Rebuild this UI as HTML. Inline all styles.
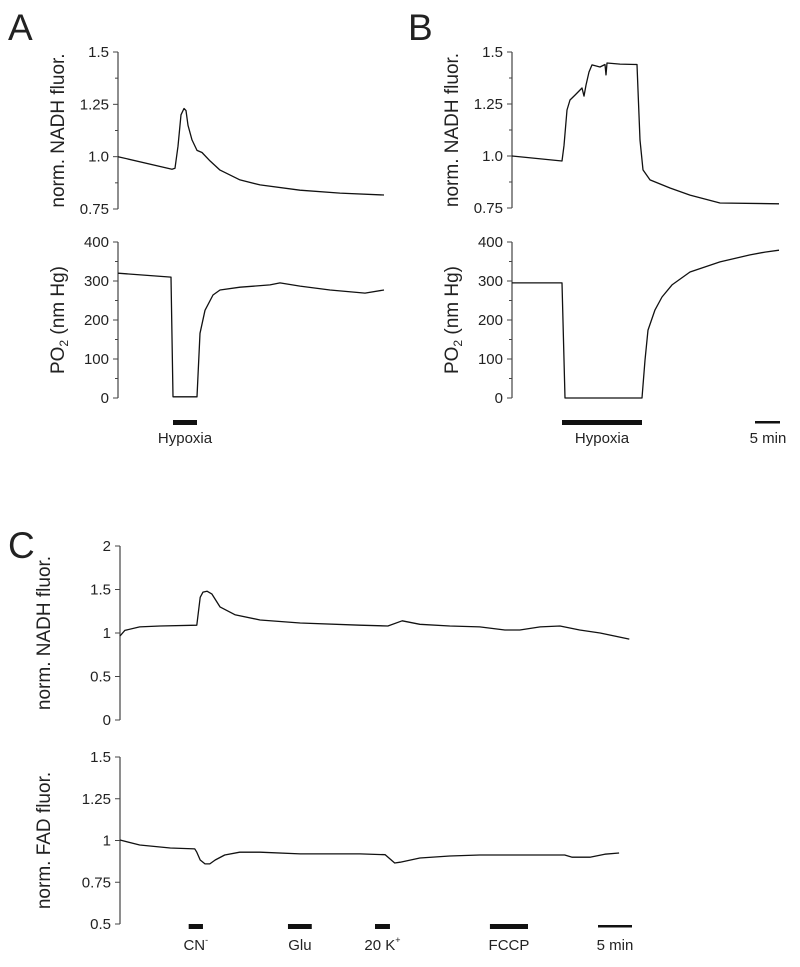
<!DOCTYPE html>
<html><head><meta charset="utf-8"><style>
body{margin:0;background:#fff}
svg text{font-family:"Liberation Sans",Arial,sans-serif;fill:#222}
</style></head><body>
<svg id="fig" width="800" height="962" viewBox="0 0 800 962" xmlns="http://www.w3.org/2000/svg">
<text x="8" y="40" font-size="37">A</text>
<text x="408" y="40" font-size="37">B</text>
<text x="8" y="558" font-size="37">C</text>
<g id="plots"></g>
</svg>
<script>
// Panel A data (time in min, values)
const aNadhT=[0,10.8,11.4,12,12.6,13.2,13.6,14,14.8,15.8,16.8,18.4,20.4,24.4,28.4,36.4,44.4,53.2];
const aNadhV=[1.0,0.94,0.945,1.05,1.2,1.23,1.22,1.15,1.08,1.03,1.02,0.98,0.936,0.889,0.865,0.84,0.826,0.817];
const aPo2T=[0,10.6,11,15.8,16.4,17.4,19,20.4,24.4,30.4,32.4,36.4,42.4,49.4,53.2];
const aPo2V=[320,310,3,3,166,225,264,277,284,290,295,287,277,269,277];
// Panel B data
const bNadhT=[0,10,10.4,11,11.6,12.6,14,14.4,14.8,15.4,16,17.6,18.6,18.8,19,21.6,25,25.2,25.6,26.2,27.6,31.6,35.6,41.6,53.4];
const bNadhV=[1.0,0.976,1.05,1.221,1.269,1.293,1.327,1.288,1.341,1.404,1.438,1.428,1.44,1.39,1.447,1.442,1.44,1.317,1.077,0.933,0.885,0.846,0.812,0.774,0.77];
const bPo2T=[0,10,10.6,26,26.6,27.2,28.6,30,32,35.6,41.6,47.6,50.6,53.4];
const bPo2V=[295,295,0,0,97,174,226,259,290,323,349,367,374,379];
// Panel C data
const cNadhT=[0,0.7,2.9,5.9,11.3,11.8,12.2,12.8,13.5,14.7,16.9,20.6,26.5,35.3,39.4,41.5,44.1,48.5,52.9,56.6,58.8,61.8,64.7,67.6,70.6,74.9];
const cNadhV=[0.966,1.03,1.07,1.08,1.09,1.41,1.47,1.48,1.45,1.30,1.21,1.15,1.115,1.09,1.08,1.14,1.1,1.08,1.07,1.035,1.035,1.07,1.08,1.035,1.0,0.93];
const cFadT=[0,2.9,7.4,11,11.3,11.8,12.5,13.2,14,15.4,17.6,20.6,26.5,35.3,39,40.4,41.2,44.1,48.5,52.9,65.4,66.5,69.1,71.3,73.4];
const cFadV=[1.003,0.973,0.955,0.95,0.93,0.883,0.86,0.86,0.883,0.913,0.93,0.93,0.92,0.92,0.915,0.865,0.87,0.895,0.907,0.913,0.913,0.9,0.9,0.918,0.925];
// tick labels
const nadhABTicks=["1.5","1.25","1.0","0.75"];
const po2Ticks=["400","300","200","100","0"];
const cNadhTicks=["2","1.5","1","0.5","0"];
const cFadTicks=["1.5","1.25","1","0.75","0.5"];
// stimulus bars [start, end] in min
const aBars=[[11,15.8]];
const bBars=[[10,26]];
const cBars=[[10.1,12.2],[24.7,28.2],[37.5,39.7],[54.4,60]];
const cBarLabels=["CN","Glu","20 K","FCCP"];

const NS="http://www.w3.org/2000/svg";
const root=document.getElementById('plots');
function mk(tag,attrs,parent){const e=document.createElementNS(NS,tag);for(const k in attrs)e.setAttribute(k,attrs[k]);(parent||root).appendChild(e);return e;}
function lin(d0,d1,r0,r1){return v=>r0+(v-d0)*(r1-r0)/(d1-d0);}

function axis(name,x0,yTop,yBot,labels,vmax,vmin,minor,title,titleX,sub){
  const g=mk('g',{});
  
  
  const y=lin(vmin,vmax,yBot,yTop);
  const l=mk('line',{x1:x0,y1:yTop,x2:x0,y2:yBot,stroke:'#444','stroke-width':1.2},g);
  
  
  const n=labels.length;
  for(let i=0;i<n;i++){
    const v=vmax-(vmax-vmin)*i/(n-1);const yy=y(v);
    const t=mk('line',{x1:x0-5,y1:yy,x2:x0,y2:yy,stroke:'#444','stroke-width':1},g);
    
    
    const tx=mk('text',{x:x0-9,y:yy+5,'font-size':15,'text-anchor':'end'},g);
    tx.textContent=labels[i];
    
    
    if(minor&&i<n-1){const ym=y(v-(vmax-vmin)/(n-1)/2);
      const m=mk('line',{x1:x0-3,y1:ym,x2:x0,y2:ym,stroke:'#444','stroke-width':1},g);
      
      }
  }
  const cy=(yTop+yBot)/2;
  const tt=mk('text',{x:titleX,y:cy,'font-size':19,'text-anchor':'middle',transform:`rotate(-90 ${titleX} ${cy})`},g);
  
  
  if(sub){tt.textContent='PO';const s=mk('tspan',{'font-size':12,dy:4},tt);s.textContent='2';const r=mk('tspan',{dy:-4},tt);r.textContent=' (nm Hg)';}
  else tt.textContent=title;
  return y;
}
function trace(name,T,V,xs,ys){
  let d='';for(let i=0;i<T.length;i++)d+=(i?'L':'M')+xs(T[i]).toFixed(1)+' '+ys(V[i]).toFixed(1);
  const p=mk('path',{d:d,fill:'none',stroke:'#111','stroke-width':1.3,'stroke-linejoin':'round'});
  
  
}
function bar(name,x1,x2,y,h){
  const r=mk('rect',{x:x1,y:y,width:x2-x1,height:h,fill:'#111'});
  
  
}
function label(name,x,y,txt,sup){
  const t=mk('text',{x:x,y:y,'font-size':15,'text-anchor':'middle'});
  t.textContent=txt;
  if(sup){const s=mk('tspan',{'font-size':9,dy:-7},t);s.textContent=sup;}
  
  
}

// Panel A
const xA=lin(0,1,118,123);
const yAN=axis('a-nadh-y-axis',118,52,209,nadhABTicks,1.5,0.75,true,'norm. NADH fluor.',64);
trace('a-nadh-trace',aNadhT,aNadhV,xA,yAN);
const yAP=axis('a-po2-y-axis',118,242,398,po2Ticks,400,0,true,'',64,true);
trace('a-po2-trace',aPo2T,aPo2V,xA,yAP);
aBars.forEach(b=>{bar('a-hypoxia-bar',xA(b[0]),xA(b[1]),420,5);label('a-hypoxia-label',(xA(b[0])+xA(b[1]))/2,443,'Hypoxia');});

// Panel B
const xB=lin(0,1,512,517);
const yBN=axis('b-nadh-y-axis',512,52,208,nadhABTicks,1.5,0.75,true,'norm. NADH fluor.',458);
trace('b-nadh-trace',bNadhT,bNadhV,xB,yBN);
const yBP=axis('b-po2-y-axis',512,242,398,po2Ticks,400,0,true,'',458,true);
trace('b-po2-trace',bPo2T,bPo2V,xB,yBP);
bBars.forEach(b=>{bar('b-hypoxia-bar',xB(b[0]),xB(b[1]),420,5);label('b-hypoxia-label',(xB(b[0])+xB(b[1]))/2,443,'Hypoxia');});
bar('b-scale-bar',755,780,421,2.5);
label('b-scale-label',768,443,'5 min');

// Panel C
const xC=lin(0,1,120,126.8);
const yCN=axis('c-nadh-y-axis',120,546,720,cNadhTicks,2,0,false,'norm. NADH fluor.',50);
trace('c-nadh-trace',cNadhT,cNadhV,xC,yCN);
const yCF=axis('c-fad-y-axis',120,757,924,cFadTicks,1.5,0.5,false,'norm. FAD fluor.',50);
trace('c-fad-trace',cFadT,cFadV,xC,yCF);
cBars.forEach((b,i)=>{
  bar('c-stim-bar',xC(b[0]),xC(b[1]),924,5);
  const sup=i===0?'-':(i===2?'+':'');
  label('c-stim-label',(xC(b[0])+xC(b[1]))/2,950,cBarLabels[i],sup);
});
bar('c-scale-bar',598,632,925,2.5);
label('c-scale-label',615,950,'5 min');
</script>
</body></html>
